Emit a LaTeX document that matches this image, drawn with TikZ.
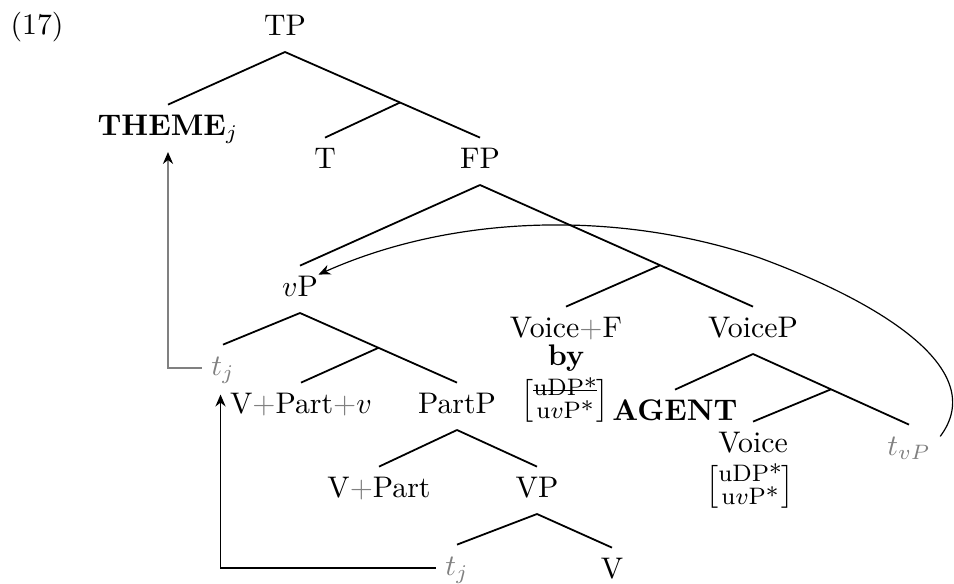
\documentclass[tikz,border=0pt]{standalone}
\usepackage{amsmath}
\usepackage{xcolor}
\usetikzlibrary{arrows.meta, calc}
\tikzset{
	cat/.style={anchor=base, inner sep=3pt, text height=7pt, text depth=2.5pt},
	trace/.style={cat, text=gray},
	feat/.style={inner sep=0pt, font=\footnotesize},
	branch/.style={semithick},
	move/.style={semithick, -{Stealth[length=4pt, width=3.4pt, inset=1.3pt]}},
	graymove/.style={move, draw=gray, -{Stealth[length=4pt, width=3.4pt, inset=1.3pt, color=black]}}
}
\newcommand{\gplus}{{\color{gray}+}}
\newcommand{\feats}[1]{{\setlength{\arraycolsep}{2pt}\renewcommand{\arraystretch}{0.6}$\begin{bmatrix}#1\end{bmatrix}$}}
\newcommand{\crossout}[1]{\setbox0\hbox{#1}\rlap{\rule[0.45ex]{\wd0}{0.5pt}}#1}

\begin{document}
\begin{tikzpicture}[x=0.0118cm, y=-0.0118cm]
	\useasboundingbox (0,0) rectangle (954,583);
	\node[anchor=base west, inner sep=0pt] (ex) at (10,34) {(17)};
	
	\node[cat] (tp) at (285,35) {TP};
	\node[cat] (theme) at (168,135) {\textbf{THEME}$_j$};
	\node[cat] (t) at (325,168) {T};
	\node[cat] (fp) at (480,168) {FP};
	
	\node[cat] (vp) at (300,296) {$v$P};
	\node[cat] (voicef) at (566,337) {Voice\gplus F};
	\node[cat] (by) at (566,365) {\textbf{by}};
	\node[feat] (byfeat) at (565,401) {\feats{\text{\crossout{uDP*}}\\ \text{u}v\text{P*}}};
	\node[cat] (voicep) at (753,337) {VoiceP};
	
	\node[trace] (tju) at (223,375) {$t_j$};
	\node[cat] (vpartv) at (301,413) {V\gplus Part\gplus$v$};
	\node[cat] (partp) at (457,413) {PartP};
	\node[cat] (vpart) at (379,497) {V\gplus Part};
	\node[cat] (vphr) at (537,497) {VP};
	\node[trace] (tjl) at (457,575) {$t_j$};
	\node[cat] (v) at (612,578) {V};
	
	\node[cat] (agent) at (675,420) {\textbf{AGENT}};
	\node[cat, text depth=0pt] (voice) at (753,452) {Voice};
	\node[feat] (voicefeat) at (750,487) {\feats{\text{uDP*}\\ \text{u}v\text{P*}}};
	\node[trace] (tvp) at (909,455) {$t_{vP}$};
	
	\coordinate (tbar) at ($(tp.south)!.59!(fp.north)$);
	\coordinate (fbar) at ($(fp.south)!.66!(voicep.north)$);
	\coordinate (vbar) at ($(vp.south)!.5!(partp.north)$);
	\coordinate (voicebar) at ($(voicep.south)!.5!(tvp.north)$);
	
	\draw[branch] (tp.south) -- (theme.north);
	\draw[branch] (tp.south) -- (tbar) -- (fp.north);
	\draw[branch] (tbar) -- (t.north);
	\draw[branch] (fp.south) -- (vp.north);
	\draw[branch] (fp.south) -- (fbar) -- (voicep.north);
	\draw[branch] (fbar) -- (voicef.north);
	\draw[branch] (vp.south) -- (tju.north);
	\draw[branch] (vp.south) -- (vbar) -- (partp.north);
	\draw[branch] (vbar) -- (vpartv.north);
	\draw[branch] (partp.south) -- (vpart.north);
	\draw[branch] (partp.south) -- (vphr.north);
	\draw[branch] (vphr.south) -- (tjl.north);
	\draw[branch] (vphr.south) -- (v.north);
	\draw[branch] (voicep.south) -- (agent.north);
	\draw[branch] (voicep.south) -- (voicebar) -- (tvp.north);
	\draw[branch] (voicebar) -- (voice.north);
	
	\draw[graymove] (tju.west) -| (theme.south);
	\draw[move] (tjl.west) -| ([yshift=-4pt]vpartv.north west);
	\draw[thin, -{Stealth[length=4pt, width=3.4pt, inset=1.3pt]}] ([yshift=4pt]tvp.east) .. controls (990,370) and (882,303) .. (760,258) .. controls (619,210) and (454,214) .. ([xshift=-3pt, yshift=-3pt]vp.north east);
\end{tikzpicture}
\end{document}
